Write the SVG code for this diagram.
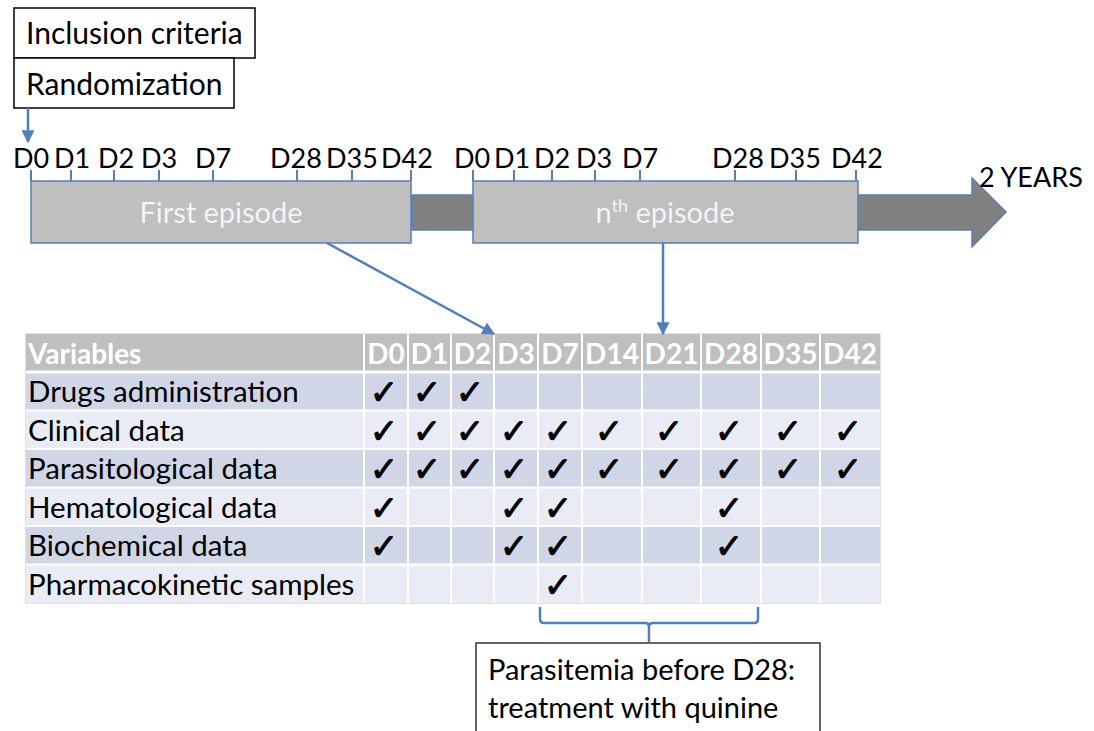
<svg xmlns="http://www.w3.org/2000/svg" width="1094" height="731" viewBox="0 0 1094 731">
  <style>
    text { font-family: Lato, "Liberation Sans", sans-serif; }
    .lbl { font-size: 30px; fill: #000; }
    .note { font-size: 29px; fill: #000; }
    .years { font-size: 27px; fill: #000; }
    .tick-lbl { font-size: 27px; fill: #000; text-anchor: middle; }
    .box { fill: #fff; stroke: #000; stroke-width: 1.5; }
    .episode { fill: #bfbfbf; stroke: #5a7db5; stroke-width: 1.5; }
    .ep-text { font-size: 29px; fill: #f4f4f4; text-anchor: middle; }
    .tick { stroke: #5a7db5; stroke-width: 2; }
    .conn { stroke: #4f7fbe; stroke-width: 2.5; fill: none; }
    .hdr { fill: #bfbfbf; }
    .band1 { fill: #d0d6e6; }
    .band2 { fill: #e9ecf4; }
    .grid { stroke: #fff; stroke-width: 2; }
    .hdr-text { font-size: 28px; font-weight: bold; fill: #fff; }
    .hdr-day { font-size: 28px; font-weight: bold; fill: #fff; text-anchor: middle; }
    .row-text { font-size: 29.5px; fill: #000; }
    .chk { font-family: "DejaVu Sans", sans-serif; font-size: 34px; fill: #000; stroke: #000; stroke-width: 1; text-anchor: middle; }
  </style>
  <defs>
    <marker id="arrow" viewBox="0 0 10 10" refX="9" refY="5" markerWidth="13" markerHeight="13" markerUnits="userSpaceOnUse" orient="auto">
      <path d="M0,0 L10,5 L0,10 z" fill="#4f7fbe"/>
    </marker>
  </defs>

  <!-- Entry steps -->
  <g id="inclusion">
    <rect class="box" x="14" y="8" width="241" height="50"/>
    <text class="lbl" x="26" y="44">Inclusion criteria</text>
  </g>
  <g id="randomization">
    <rect class="box" x="14" y="58" width="220" height="50"/>
    <text class="lbl" x="26" y="95">Randomization</text>
  </g>

  <!-- Follow-up time axis -->
  <g id="time-axis">
    <path d="M412,195 L972,195 L972,178 L1006,212 L972,247 L972,230 L412,230 Z" fill="#808080" stroke="#5a7db5" stroke-width="1.5"/>
    <text class="years" x="979" y="187">2 YEARS</text>
  </g>

  <g id="first-episode">
    <rect class="episode" x="31" y="181" width="380" height="62"/>
    <g class="tick">
      <line x1="31" y1="170" x2="31" y2="181"/>
      <line x1="71" y1="170" x2="71" y2="181"/>
      <line x1="114" y1="170" x2="114" y2="181"/>
      <line x1="159" y1="170" x2="159" y2="181"/>
      <line x1="213" y1="170" x2="213" y2="181"/>
      <line x1="297" y1="170" x2="297" y2="181"/>
      <line x1="352" y1="170" x2="352" y2="181"/>
      <line x1="411" y1="170" x2="411" y2="181"/>
    </g>
    <text class="tick-lbl" x="31" y="168">D0</text>
    <text class="tick-lbl" x="72" y="168">D1</text>
    <text class="tick-lbl" x="116" y="168">D2</text>
    <text class="tick-lbl" x="159" y="168">D3</text>
    <text class="tick-lbl" x="213" y="168">D7</text>
    <text class="tick-lbl" x="296" y="168">D28</text>
    <text class="tick-lbl" x="352" y="168">D35</text>
    <text class="tick-lbl" x="407" y="168">D42</text>
    <text class="ep-text" x="221" y="223">First episode</text>
  </g>

  <g id="nth-episode">
    <rect class="episode" x="473" y="181" width="385" height="62"/>
    <g class="tick">
      <line x1="473" y1="170" x2="473" y2="181"/>
      <line x1="514" y1="170" x2="514" y2="181"/>
      <line x1="552" y1="170" x2="552" y2="181"/>
      <line x1="595" y1="170" x2="595" y2="181"/>
      <line x1="640" y1="170" x2="640" y2="181"/>
      <line x1="735" y1="170" x2="735" y2="181"/>
      <line x1="796" y1="170" x2="796" y2="181"/>
      <line x1="856" y1="170" x2="856" y2="181"/>
    </g>
    <text class="tick-lbl" x="472" y="168">D0</text>
    <text class="tick-lbl" x="512" y="168">D1</text>
    <text class="tick-lbl" x="552" y="168">D2</text>
    <text class="tick-lbl" x="594" y="168">D3</text>
    <text class="tick-lbl" x="640" y="168">D7</text>
    <text class="tick-lbl" x="738" y="168">D28</text>
    <text class="tick-lbl" x="795" y="168">D35</text>
    <text class="tick-lbl" x="857" y="168">D42</text>
    <text class="ep-text" x="665" y="223">n<tspan font-size="18" dy="-11">th</tspan><tspan dy="11"> episode</tspan></text>
  </g>

  <!-- Schedule of assessments -->
  <g id="schedule-table">
    <rect x="26" y="334" width="854" height="269" fill="#fff" stroke="#d9d9d9" stroke-width="1.5"/>
    <rect class="hdr" x="26" y="334" width="854" height="37"/>
    <rect class="band1" x="26" y="372" width="854" height="38.5"/>
    <rect class="band2" x="26" y="410.5" width="854" height="38.5"/>
    <rect class="band1" x="26" y="449" width="854" height="38.5"/>
    <rect class="band2" x="26" y="487.5" width="854" height="38.5"/>
    <rect class="band1" x="26" y="526" width="854" height="38.5"/>
    <rect class="band2" x="26" y="564.5" width="854" height="38.5"/>
    <g class="grid">
      <line x1="26" y1="372" x2="880" y2="372" stroke-width="3"/>
      <line x1="26" y1="410.5" x2="880" y2="410.5"/>
      <line x1="26" y1="449" x2="880" y2="449"/>
      <line x1="26" y1="487.5" x2="880" y2="487.5"/>
      <line x1="26" y1="526" x2="880" y2="526"/>
      <line x1="26" y1="564.5" x2="880" y2="564.5"/>
      <line x1="364" y1="334" x2="364" y2="603"/>
      <line x1="408" y1="334" x2="408" y2="603"/>
      <line x1="451" y1="334" x2="451" y2="603"/>
      <line x1="494" y1="334" x2="494" y2="603"/>
      <line x1="538" y1="334" x2="538" y2="603"/>
      <line x1="582" y1="334" x2="582" y2="603"/>
      <line x1="642" y1="334" x2="642" y2="603"/>
      <line x1="701" y1="334" x2="701" y2="603"/>
      <line x1="761" y1="334" x2="761" y2="603"/>
      <line x1="820" y1="334" x2="820" y2="603"/>
    </g>
    <text class="hdr-text" x="28" y="364">Variables</text>
    <text class="hdr-day" x="386" y="364">D0</text>
    <text class="hdr-day" x="429.5" y="364">D1</text>
    <text class="hdr-day" x="472.5" y="364">D2</text>
    <text class="hdr-day" x="516" y="364">D3</text>
    <text class="hdr-day" x="560" y="364">D7</text>
    <text class="hdr-day" x="612" y="364">D14</text>
    <text class="hdr-day" x="671.5" y="364">D21</text>
    <text class="hdr-day" x="731" y="364">D28</text>
    <text class="hdr-day" x="790.5" y="364">D35</text>
    <text class="hdr-day" x="850" y="364">D42</text>

    <text class="row-text" x="28" y="402">Drugs administration</text>
    <text class="row-text" x="28" y="441">Clinical data</text>
    <text class="row-text" x="28" y="479">Parasitological data</text>
    <text class="row-text" x="28" y="518">Hematological data</text>
    <text class="row-text" x="28" y="556">Biochemical data</text>
    <text class="row-text" x="28" y="595">Pharmacokinetic samples</text>

    <!-- Drugs administration -->
    <g class="chk-row">
      <text class="chk" x="384" y="404">✓</text>
      <text class="chk" x="427" y="404">✓</text>
      <text class="chk" x="470" y="404">✓</text>
    </g>
    <!-- Clinical data -->
    <g class="chk-row">
      <text class="chk" x="384" y="443">✓</text>
      <text class="chk" x="427" y="443">✓</text>
      <text class="chk" x="470" y="443">✓</text>
      <text class="chk" x="514" y="443">✓</text>
      <text class="chk" x="558" y="443">✓</text>
      <text class="chk" x="609" y="443">✓</text>
      <text class="chk" x="669" y="443">✓</text>
      <text class="chk" x="729" y="443">✓</text>
      <text class="chk" x="788" y="443">✓</text>
      <text class="chk" x="848" y="443">✓</text>
    </g>
    <!-- Parasitological data -->
    <g class="chk-row">
      <text class="chk" x="384" y="481">✓</text>
      <text class="chk" x="427" y="481">✓</text>
      <text class="chk" x="470" y="481">✓</text>
      <text class="chk" x="514" y="481">✓</text>
      <text class="chk" x="558" y="481">✓</text>
      <text class="chk" x="609" y="481">✓</text>
      <text class="chk" x="669" y="481">✓</text>
      <text class="chk" x="729" y="481">✓</text>
      <text class="chk" x="788" y="481">✓</text>
      <text class="chk" x="848" y="481">✓</text>
    </g>
    <!-- Hematological data -->
    <g class="chk-row">
      <text class="chk" x="384" y="520">✓</text>
      <text class="chk" x="514" y="520">✓</text>
      <text class="chk" x="558" y="520">✓</text>
      <text class="chk" x="729" y="520">✓</text>
    </g>
    <!-- Biochemical data -->
    <g class="chk-row">
      <text class="chk" x="384" y="558">✓</text>
      <text class="chk" x="514" y="558">✓</text>
      <text class="chk" x="558" y="558">✓</text>
      <text class="chk" x="729" y="558">✓</text>
    </g>
    <!-- Pharmacokinetic samples -->
    <g class="chk-row">
      <text class="chk" x="558" y="597">✓</text>
    </g>
  </g>

  <!-- Rescue treatment note -->
  <g id="quinine-note">
    <rect x="476" y="643" width="344" height="100" fill="#fff" stroke="#333" stroke-width="1.5"/>
    <text class="note" x="488" y="680">Parasitemia before D28:</text>
    <text class="note" x="488" y="718">treatment with quinine</text>
  </g>

  <g id="connectors">
    <line class="conn" x1="28" y1="108" x2="28" y2="142" marker-end="url(#arrow)"/>
    <line class="conn" x1="327" y1="243" x2="494" y2="334" marker-end="url(#arrow)"/>
    <line class="conn" x1="663" y1="243" x2="663" y2="334" marker-end="url(#arrow)"/>
    <path class="conn" d="M540,607 L540,619 Q540,623 544,623 L645,623 Q649,623 649,627 L649,642 M649,627 Q649,623 653,623 L754,623 Q758,623 758,619 L758,607"/>
  </g>
</svg>
